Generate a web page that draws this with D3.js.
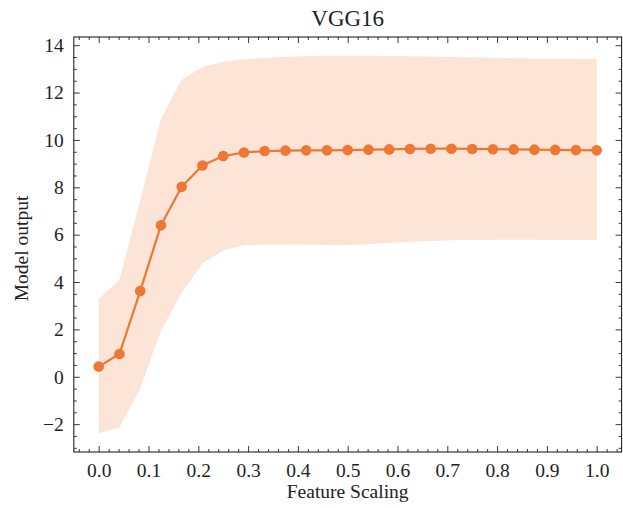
<!DOCTYPE html>
<html>
<head>
<meta charset="utf-8">
<script src="https://cdn.jsdelivr.net/npm/d3@7.9.0/dist/d3.min.js"></script>
<style>
  html, body { margin: 0; padding: 0; background: #fff; }
  svg text { font-family: "Liberation Serif", "DejaVu Serif", serif; fill: #222; }
</style>
</head>
<body>
<svg id="chart" width="623" height="508"></svg>
<script>
// feature scaling steps (25 points from 0 to 1)
const steps = d3.range(25).map(i => i / 24);

// mean model output
const meanOutput = [0.43, 0.96, 3.62, 6.40, 8.02, 8.92, 9.32, 9.47, 9.53, 9.55, 9.56, 9.56, 9.57,
  9.59, 9.60, 9.62, 9.63, 9.63, 9.62, 9.61, 9.60, 9.59, 9.58, 9.57, 9.56];

// upper and lower edge of the shaded band
const upperBand = [3.30, 4.09, 7.45, 10.88, 12.55, 13.08, 13.30, 13.40, 13.46, 13.50, 13.54, 13.55, 13.55,
  13.55, 13.54, 13.53, 13.52, 13.50, 13.48, 13.47, 13.45, 13.44, 13.43, 13.42, 13.42];
const lowerBand = [-2.38, -2.14, -0.50, 1.94, 3.55, 4.79, 5.33, 5.55, 5.58, 5.58, 5.57, 5.56, 5.56,
  5.60, 5.65, 5.70, 5.73, 5.76, 5.78, 5.79, 5.79, 5.79, 5.78, 5.77, 5.77];

const xTicks = [0, 0.1, 0.2, 0.3, 0.4, 0.5, 0.6, 0.7, 0.8, 0.9, 1.0];
const yTicks = [-2, 0, 2, 4, 6, 8, 10, 12, 14];

const color = '#EE7733';
const plotL = 73.8, plotR = 621.6, plotT = 37, plotB = 452;

const data = steps.map((s, i) => ({ x: s, y: meanOutput[i], lo: lowerBand[i], hi: upperBand[i] }));

const svg = d3.select('#chart');

const x = d3.scaleLinear().domain([-0.05, 1.05]).range([plotL, plotR]);
const yMin = d3.min(lowerBand), yMax = d3.max(upperBand);
const pad = (yMax - yMin) * 0.05;
const y = d3.scaleLinear().domain([yMin - pad, yMax + pad]).range([plotB, plotT]);

// shaded band
svg.append('path')
  .datum(data)
  .attr('fill', color)
  .attr('fill-opacity', 0.2)
  .attr('d', d3.area().x(d => x(d.x)).y0(d => y(d.lo)).y1(d => y(d.hi)));

// mean line
svg.append('path')
  .datum(data)
  .attr('fill', 'none')
  .attr('stroke', color)
  .attr('stroke-width', 2.2)
  .attr('d', d3.line().x(d => x(d.x)).y(d => y(d.y)));

svg.append('g').selectAll('circle')
  .data(data)
  .join('circle')
  .attr('cx', d => x(d.x))
  .attr('cy', d => y(d.y))
  .attr('r', 5.3)
  .attr('fill', color);

// ticks, all pointing inward
const xMinor = d3.range(-0.04, 1.05, 0.02).filter(v => Math.abs(v * 10 - Math.round(v * 10)) > 1e-6);
const yMinor = d3.range(-3, 14.5, 0.5).filter(v => v % 2 !== 0);
const fmtX = d3.format('.1f');
const fmtY = v => (v < 0 ? '\u2212' + Math.abs(v) : String(v));

const axB = d3.axisBottom(x).tickValues(xTicks).tickSizeInner(-6).tickSizeOuter(0).tickFormat(fmtX).tickPadding(11);
const axT = d3.axisTop(x).tickValues(xTicks).tickSizeInner(-6).tickSizeOuter(0).tickFormat('');
const axL = d3.axisLeft(y).tickValues(yTicks).tickSizeInner(-6).tickSizeOuter(0).tickFormat(fmtY).tickPadding(10);
const axR = d3.axisRight(y).tickValues(yTicks).tickSizeInner(-6).tickSizeOuter(0).tickFormat('');

const mB = d3.axisBottom(x).tickValues(xMinor).tickSize(-3).tickFormat('');
const mT = d3.axisTop(x).tickValues(xMinor).tickSize(-3).tickFormat('');
const mL = d3.axisLeft(y).tickValues(yMinor).tickSize(-3).tickFormat('');
const mR = d3.axisRight(y).tickValues(yMinor).tickSize(-3).tickFormat('');

function place(ax, tr) {
  const g = svg.append('g').attr('transform', tr).call(ax);
  g.select('.domain').remove();
  g.selectAll('line').attr('stroke', '#222').attr('stroke-width', 0.9);
  g.selectAll('text').attr('font-size', 19.5).attr('font-family', '"Liberation Serif", serif').attr('fill', '#222');
  return g;
}
place(axB, `translate(0,${plotB})`);
place(axT, `translate(0,${plotT})`);
place(axL, `translate(${plotL},0)`);
place(axR, `translate(${plotR},0)`);
place(mB, `translate(0,${plotB})`);
place(mT, `translate(0,${plotT})`);
place(mL, `translate(${plotL},0)`);
place(mR, `translate(${plotR},0)`);

// frame
svg.append('rect')
  .attr('x', plotL).attr('y', plotT)
  .attr('width', plotR - plotL).attr('height', plotB - plotT)
  .attr('fill', 'none').attr('stroke', '#222').attr('stroke-width', 1.1);

// titles
svg.append('text')
  .attr('x', (plotL + plotR) / 2).attr('y', 26)
  .attr('text-anchor', 'middle').attr('font-size', 23)
  .text('VGG16');

svg.append('text')
  .attr('x', (plotL + plotR) / 2).attr('y', 498)
  .attr('text-anchor', 'middle').attr('font-size', 19.5)
  .text('Feature Scaling');

svg.append('text')
  .attr('transform', `translate(28,${(plotT + plotB) / 2 + 4}) rotate(-90)`)
  .attr('text-anchor', 'middle').attr('font-size', 19.5)
  .text('Model output');
</script>
</body>
</html>
